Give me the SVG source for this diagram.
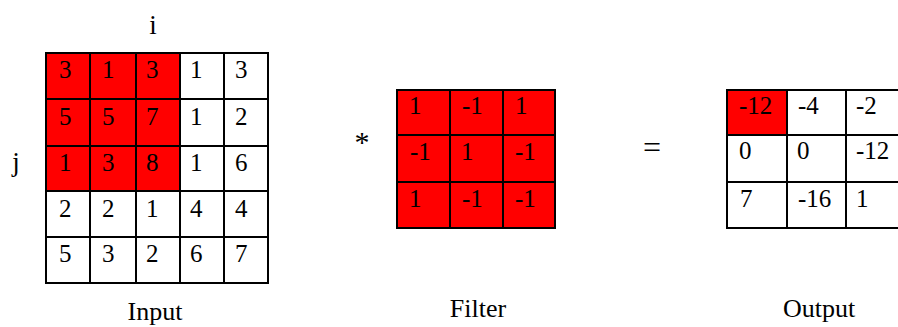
<svg xmlns="http://www.w3.org/2000/svg" width="898" height="327" viewBox="0 0 898 327">
<style>
.t{font-family:"Liberation Serif","Times New Roman",serif;fill:#000}
.n{font-size:25px}
.f{font-size:25px}
.lbl{font-size:26px;text-anchor:middle}
.g{fill:none;stroke:#000;stroke-width:2}
.red{fill:#ff0000}
</style>
<rect width="898" height="327" fill="#fff"/>
<text class="t" x="153" y="34" font-size="27" text-anchor="middle">i</text>
<text class="t" x="16" y="171" font-size="27" text-anchor="middle">j</text>
<g id="input">
<rect class="red" x="46" y="53" width="134" height="138"/>
<rect class="g" x="46" y="53" width="222" height="230"/>
<path class="g" d="M90 53V283M136 53V283M180 53V283M224 53V283M46 99H268M46 146H268M46 191H268M46 237H268"/>
<g class="t n">
<text x="59" y="78">3</text><text x="102" y="78">1</text><text x="146" y="78">3</text><text x="190" y="78">1</text><text x="235" y="78">3</text>
<text x="59" y="125">5</text><text x="102" y="125">5</text><text x="146" y="125">7</text><text x="190" y="125">1</text><text x="235" y="125">2</text>
<text x="59" y="171">1</text><text x="102" y="171">3</text><text x="146" y="171">8</text><text x="190" y="171">1</text><text x="235" y="171">6</text>
<text x="59" y="217">2</text><text x="102" y="217">2</text><text x="146" y="217">1</text><text x="190" y="217">4</text><text x="235" y="217">4</text>
<text x="59" y="262">5</text><text x="102" y="262">3</text><text x="146" y="262">2</text><text x="190" y="262">6</text><text x="235" y="262">7</text>
</g>
<text class="t lbl" x="155" y="320">Input</text>
</g>
<text class="t" x="362" y="152" font-size="30" text-anchor="middle">*</text>
<g id="filter">
<rect class="red" x="397" y="90" width="158" height="138"/>
<rect class="g" x="397" y="90" width="158" height="138"/>
<path class="g" d="M450 90V228M503 90V228M397 135H555M397 182H555"/>
<g class="t f">
<text x="409" y="114">1</text><text x="462" y="114">-1</text><text x="515" y="114">1</text>
<text x="410" y="160">-1</text><text x="461" y="160">1</text><text x="515" y="160">-1</text>
<text x="409" y="207">1</text><text x="462" y="207">-1</text><text x="515" y="207">-1</text>
</g>
<text class="t lbl" x="478" y="317">Filter</text>
</g>
<text class="t" x="652" y="158" font-size="32" text-anchor="middle">=</text>
<g id="output">
<rect class="red" x="727" y="90" width="60" height="45"/>
<rect class="g" x="727" y="90" width="175" height="138"/>
<path class="g" d="M787 90V228M846 90V228M727 135H898M727 182H898"/>
<g class="t n">
<text x="739" y="114">-12</text><text x="798" y="114">-4</text><text x="856" y="114">-2</text>
<text x="739" y="159">0</text><text x="797" y="159">0</text><text x="856" y="159">-12</text>
<text x="740" y="207">7</text><text x="798" y="207">-16</text><text x="856" y="207">1</text>
</g>
<text class="t lbl" x="819" y="317">Output</text>
</g>
</svg>
